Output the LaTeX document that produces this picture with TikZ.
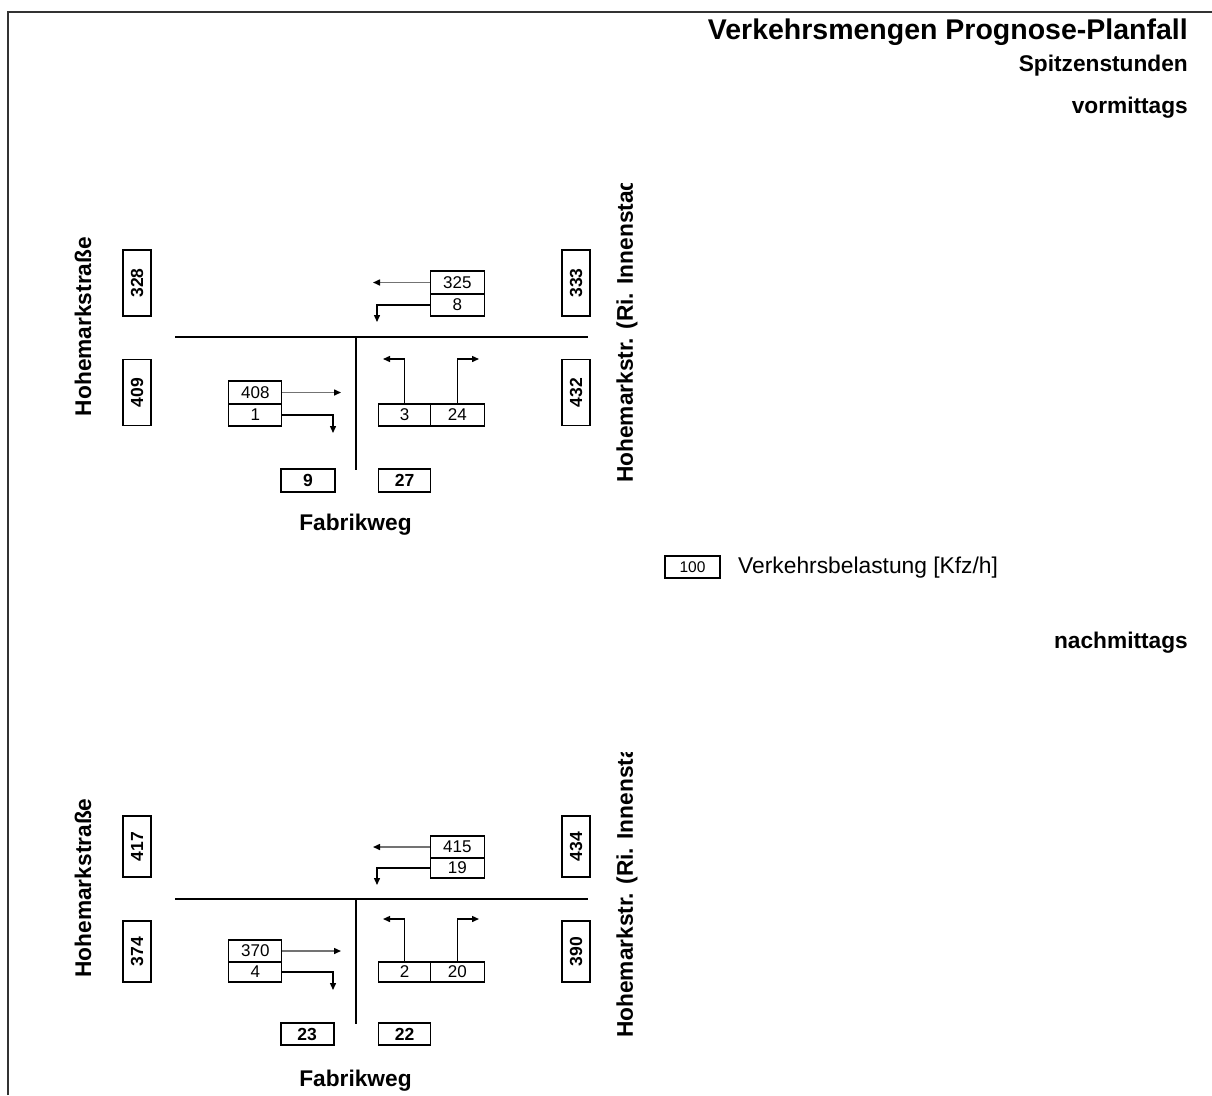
\documentclass[tikz,border=0pt]{standalone}
\usepackage{fontspec}
\setmainfont{Liberation Sans}
\usetikzlibrary{arrows.meta}
\newcommand\headfont{\fontsize{28.5}{34}\selectfont\bfseries}
\newcommand\labfont{\fontsize{22.7}{27}\selectfont\bfseries}
\newcommand\keyfont{\fontsize{22.8}{27}\selectfont}
\newcommand\cellfont{\fontsize{17}{19}\selectfont}
\newcommand\legfont{\fontsize{15.5}{18}\selectfont}
\newcommand\sumfont{\fontsize{17.5}{20}\selectfont\bfseries}
\tikzset{
  frame/.style={draw=black!80,line width=1.5pt},
  road/.style={draw=black,line width=2pt},
  sumv/.style={draw,line width=1.8pt,rotate=90,inner sep=0pt,
    minimum width=66pt,minimum height=28pt,font=\sumfont},
  sumh/.style={draw,line width=1.8pt,inner sep=0pt,
    minimum width=54pt,minimum height=23pt,font=\sumfont},
  cell/.style={draw,line width=1.3pt,inner sep=0pt,
    minimum width=53pt,minimum height=22pt,font=\cellfont},
  turn/.style={draw=black,line width=1.4pt,-{Triangle[length=7pt,width=6pt]}},
  thru/.style={draw=black!55,line width=1.5pt,-{Triangle[length=7pt,width=6pt,color=black]}},
  street/.style={inner sep=0pt,font=\labfont},
  head/.style={anchor=base east,inner sep=0pt,font=\labfont},
}

\begin{document}
\begin{tikzpicture}[x=1pt,y=-1pt]
\useasboundingbox (0,0) rectangle (1212,1095);
% frame
\coordinate (f1) at (8,1095);
\coordinate (f2) at (8,12);
\coordinate (f3) at (1212,12);
\draw[frame] (f1)--(f2)--(f3);
% headings
\node[head,font=\headfont] (title) at (1188,39) {Verkehrsmengen Prognose-Planfall};
\node[head] (peak) at (1188,71) {Spitzenstunden};
\node[head] (am) at (1188,113) {vormittags};
\node[head] (pm) at (1188,648) {nachmittags};
% legend
\node[cell,minimum width=55pt,font=\legfont] (key) at (692.5,567) {100};
\node[anchor=base west,inner sep=0pt,font=\keyfont] (keytext) at (738,573) {Verkehrsbelastung [Kfz/h]};

% vormittags
\coordinate (vmRW) at (175,337);
\coordinate (vmRE) at (588,337);
\coordinate (vmRN) at (355.5,337);
\coordinate (vmRS) at (355.5,470);
\draw[road] (vmRW)--(vmRE);
\draw[road] (vmRN)--(vmRS);
\node[sumv] (vmW1) at (137,283) {328};
\node[sumv] (vmW2) at (137,392.5) {409};
\node[sumv] (vmE1) at (576,283) {333};
\node[sumv] (vmE2) at (576,392.5) {432};
\node[sumh] (vmS1) at (308,480.5) {9};
\node[sumh,minimum width=52pt] (vmS2) at (404.5,480.5) {27};
\node[cell,minimum width=54pt,minimum height=23pt] (vmEg) at (457.3,282.5) {325};
\node[cell,minimum width=54pt] (vmEl) at (457.3,305) {8};
\node[cell,minimum height=23pt] (vmWg) at (255.3,392.5) {408};
\node[cell] (vmWr) at (255.3,415) {1};
\node[cell,minimum width=52pt] (vmSl) at (404.5,415) {3};
\node[cell,minimum width=54pt] (vmSr) at (457.3,415) {24};
\coordinate (vmEgT) at (373,282.5);
\coordinate (vmElT) at (377,322);
\coordinate (vmWgT) at (341,392.5);
\coordinate (vmWrT) at (333,433);
\coordinate (vmSlT) at (383,359);
\coordinate (vmSrT) at (479,359);
\draw[thru] (vmEg)--(vmEgT);
\draw[turn] (vmEl.west) -| (vmElT);
\draw[thru] (vmWg)--(vmWgT);
\draw[turn] (vmWr.east) -| (vmWrT);
\draw[turn] (vmSl.north) |- (vmSlT);
\draw[turn] (vmSr.north) |- (vmSrT);
\node[street,rotate=90] (vmWest) at (83,326.5) {Hohemarkstraße};
\begin{scope}
\clip (600,183) rectangle (660,500);
\node[street,rotate=90,anchor=west] (vmEast) at (627,483) {Hohemarkstr. (Ri. Innenstadt)};
\end{scope}
\node[street,anchor=base] (vmSouth) at (355.5,530) {Fabrikweg};

% nachmittags
\coordinate (nmRW) at (175,899);
\coordinate (nmRE) at (588,899);
\coordinate (nmRN) at (355.5,899);
\coordinate (nmRS) at (355.5,1024);
\draw[road] (nmRW)--(nmRE);
\draw[road] (nmRN)--(nmRS);
\node[sumv,minimum width=61pt] (nmW1) at (137,846.5) {417};
\node[sumv,minimum width=61pt] (nmW2) at (137,951.5) {374};
\node[sumv,minimum width=61pt] (nmE1) at (576,846.5) {434};
\node[sumv,minimum width=61pt] (nmE2) at (576,951.5) {390};
\node[sumh,minimum width=53pt,minimum height=22pt] (nmS1) at (307.2,1034) {23};
\node[sumh,minimum width=52pt,minimum height=22pt] (nmS2) at (404.5,1034) {22};
\node[cell,minimum width=54pt] (nmEg) at (457.3,847) {415};
\node[cell,minimum width=54pt,minimum height=20pt] (nmEl) at (457.3,868) {19};
\node[cell] (nmWg) at (255.3,951) {370};
\node[cell,minimum height=20pt] (nmWr) at (255.3,972) {4};
\node[cell,minimum width=52pt,minimum height=20pt] (nmSl) at (404.5,972) {2};
\node[cell,minimum width=54pt,minimum height=20pt] (nmSr) at (457.3,972) {20};
\coordinate (nmEgT) at (373,847);
\coordinate (nmElT) at (377,885);
\coordinate (nmWgT) at (341,951);
\coordinate (nmWrT) at (333,990);
\coordinate (nmSlT) at (383,919);
\coordinate (nmSrT) at (479,919);
\draw[thru] (nmEg)--(nmEgT);
\draw[turn] (nmEl.west) -| (nmElT);
\draw[thru] (nmWg)--(nmWgT);
\draw[turn] (nmWr.east) -| (nmWrT);
\draw[turn] (nmSl.north) |- (nmSlT);
\draw[turn] (nmSr.north) |- (nmSrT);
\node[street,rotate=90] (nmWest) at (83,888) {Hohemarkstraße};
\begin{scope}
\clip (600,752) rectangle (660,1060);
\node[street,rotate=90,anchor=west] (nmEast) at (627,1038) {Hohemarkstr. (Ri. Innenstadt)};
\end{scope}
\node[street,anchor=base] (nmSouth) at (355.5,1086) {Fabrikweg};
\end{tikzpicture}
\end{document}
